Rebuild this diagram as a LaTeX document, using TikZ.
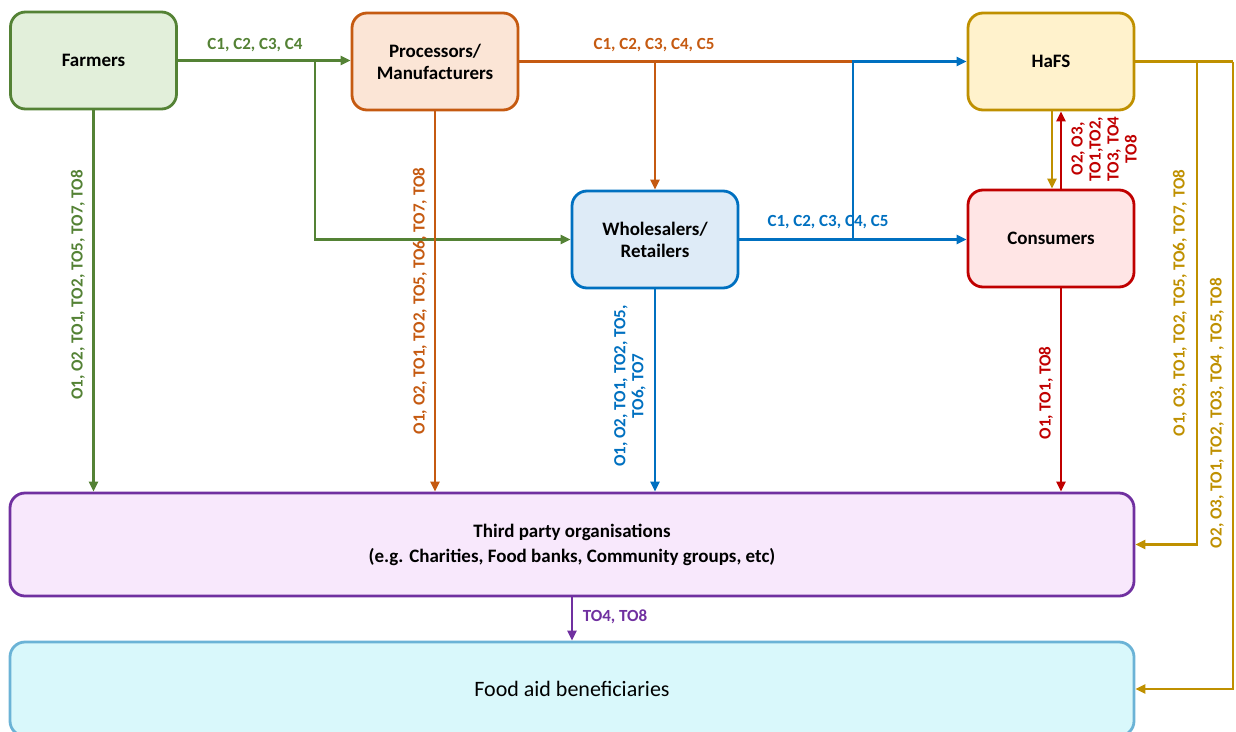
\documentclass[tikz,border=0pt]{standalone}
\usepackage{fontspec}
\setmainfont{Carlito}
\usetikzlibrary{arrows.meta}
\definecolor{cgreen}{HTML}{548235}
\definecolor{fgreen}{HTML}{E2EFDA}
\definecolor{corange}{HTML}{C55A11}
\definecolor{forange}{HTML}{FBE5D6}
\definecolor{cgold}{HTML}{BF9000}
\definecolor{fgold}{HTML}{FFF2CC}
\definecolor{cblue}{HTML}{0070C0}
\definecolor{fblue}{HTML}{DEEBF7}
\definecolor{cred}{HTML}{C00000}
\definecolor{fred}{HTML}{FFE5E5}
\definecolor{cpurple}{HTML}{7030A0}
\definecolor{fpurple}{HTML}{F8E8FC}
\definecolor{clight}{HTML}{6BB3D6}
\definecolor{flight}{HTML}{D9F8FB}
\tikzset{
  boxnode/.style={draw, line width=2.8pt, rounded corners=15pt, minimum width=166pt, minimum height=97pt, align=center, inner sep=0pt, font=\fontsize{19}{22}\selectfont\bfseries},
  conn/.style={line width=2.8pt, -{Triangle[length=10pt,width=9pt]}},
  plain/.style={line width=2.8pt},
  lab/.style={font=\fontsize{17}{18}\selectfont\bfseries, inner sep=0pt, align=center},
  vlab/.style={lab, rotate=90},
}
\begin{document}
\begin{tikzpicture}[x=1pt,y=-1pt]
\path[use as bounding box, clip] (0,0) rectangle (1236,731);
% boxes
\node[boxnode, draw=cgreen, fill=fgreen] (far) at (93.5,60.5) {Farmers};
\node[boxnode, draw=corange, fill=forange] (pro) at (435,61.5) {Processors/\\Manufacturers};
\node[boxnode, draw=cgold, fill=fgold] (hafs) at (1051,61.5) {HaFS};
\node[boxnode, draw=cblue, fill=fblue] (who) at (655,239.5) {Wholesalers/\\Retailers};
\node[boxnode, draw=cred, fill=fred] (con) at (1051,238.5) {Consumers};
\node[boxnode, draw=cpurple, fill=fpurple, minimum width=1124pt, minimum height=103pt, font=\fontsize{19}{25}\selectfont\bfseries] (tp) at (572,544.5) {Third party organisations\\(e.g. Charities, Food banks, Community groups, etc)};
\node[boxnode, draw=clight, fill=flight, minimum width=1124pt, minimum height=94pt, font=\fontsize{22}{24}\selectfont] (food) at (572,689) {Food aid beneficiaries};
% coordinates
\coordinate (gb) at (315,60.5);
\coordinate (ob) at (655,61.5);
\coordinate (bj) at (853,61.5);
\coordinate (bb) at (853,239.5);
\coordinate (y1) at (1197,61.5);
\coordinate (y2) at (1233,61.5);
% green
\draw[conn, cgreen] (far.east) -- (far.east -| pro.west);
\draw[conn, cgreen] (gb) |- (who.west);
\draw[conn, cgreen] (far.south) -- (far.south |- tp.north);
% orange
\draw[plain, corange] (pro.east) -- (bj);
\draw[conn, corange] (ob) -- (who.north);
\draw[conn, corange] (pro.south) -- (pro.south |- tp.north);
% blue
\draw[conn, cblue] (who.east) -- (who.east -| con.west);
\draw[conn, cblue] (bb) -- (bj) -- (hafs.west);
\draw[conn, cblue] (who.south) -- (who.south |- tp.north);
% HaFS / consumers
\draw[conn, cgold] ([xshift=1pt]hafs.south) -- ([xshift=1pt]con.north);
\draw[conn, cred] ([xshift=10pt]con.north) -- ([xshift=10pt]hafs.south);
\draw[conn, cred] ([xshift=10pt]con.south) -- ([xshift=10pt]con.south |- tp.north);
% gold right
\draw[plain, cgold] (hafs.east) -- (y2);
\draw[conn, cgold] (y1) |- (tp.east);
\draw[conn, cgold] (y2) |- (food.east);
% purple
\draw[conn, cpurple] (tp.south) -- (food.north);
% labels
\node[lab, text=cgreen] (l1) at (255,45) {C1, C2, C3, C4};
\node[lab, text=corange] (l2) at (654,45) {C1, C2, C3, C4, C5};
\node[lab, text=cblue] (l3) at (828,222) {C1, C2, C3, C4, C5};
\node[vlab, text=cgreen] (l4) at (78,285) {O1, O2, TO1, TO2, TO5, TO7, TO8};
\node[vlab, text=corange] (l5) at (420,301) {O1, O2, TO1, TO2, TO5, TO6, TO7, TO8};
\node[vlab, text=cblue] (l6) at (630,386) {O1, O2, TO1, TO2, TO5,\\TO6, TO7};
\node[vlab, text=cred] (l7) at (1104,149) {O2, O3,\\TO1,TO2,\\TO3, TO4\\TO8};
\node[vlab, text=cred] (l8) at (1046,393) {O1, TO1, TO8};
\node[vlab, text=cgold] (l9) at (1180,303) {O1, O3, TO1, TO2, TO5, TO6, TO7, TO8};
\node[vlab, text=cgold] (l10) at (1217,413) {O2, O3, TO1, TO2, TO3, TO4 , TO5, TO8};
\node[lab, text=cpurple] (l11) at (615,617) {TO4, TO8};
\end{tikzpicture}
\end{document}
